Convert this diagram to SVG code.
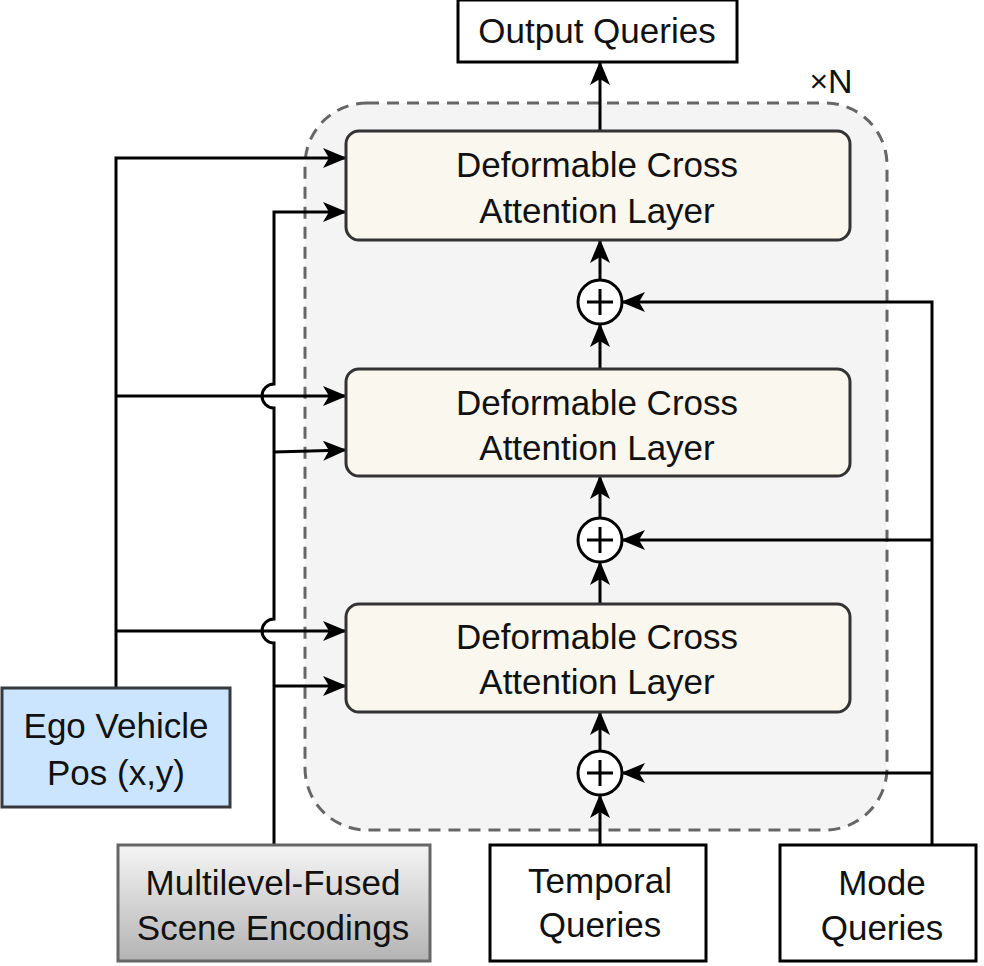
<svg xmlns="http://www.w3.org/2000/svg" width="984" height="966" viewBox="0 0 984 966">
<style>
text{font-family:"Liberation Sans",Arial,sans-serif;font-size:35px;fill:#111;text-anchor:middle;dominant-baseline:central}
.box{fill:#fff;stroke:#000;stroke-width:3}
.layer{fill:#f9f7ee;stroke:#333;stroke-width:3}
.ln{fill:none;stroke:#000;stroke-width:3}
.sum{fill:#fff;stroke:#000;stroke-width:3}
</style>
<defs>
<marker id="ah" viewBox="0 0 24 20" refX="23" refY="10" markerWidth="24" markerHeight="20" markerUnits="userSpaceOnUse" orient="auto">
<path d="M0,0 L24,10 L0,20 L6,10 Z" fill="#000"/>
</marker>
<linearGradient id="g" x1="0" y1="0" x2="0" y2="1">
<stop offset="0" stop-color="#f5f5f5"/><stop offset="1" stop-color="#b3b3b3"/>
</linearGradient>
</defs>
<rect width="984" height="966" fill="#fff"/>
<g id="container">
<rect x="305" y="103" width="582" height="727" rx="62" fill="#f4f4f4" stroke="#666" stroke-width="3" stroke-dasharray="12,8"/>
<text x="831" y="81" style="font-size:34px"><tspan style="font-size:32px">×</tspan>N</text>
</g>
<g id="connectors">
<path class="ln" d="M600,845 L600,795" marker-end="url(#ah)"/>
<path class="ln" d="M600,751 L600,712" marker-end="url(#ah)"/>
<path class="ln" d="M600,604 L600,562" marker-end="url(#ah)"/>
<path class="ln" d="M600,518 L600,476" marker-end="url(#ah)"/>
<path class="ln" d="M600,369 L600,324" marker-end="url(#ah)"/>
<path class="ln" d="M600,280 L600,240" marker-end="url(#ah)"/>
<path class="ln" d="M600,131 L600,62" marker-end="url(#ah)"/>
<path class="ln" d="M932,845 L932,302 L622,302" marker-end="url(#ah)"/>
<path class="ln" d="M932,540 L622,540" marker-end="url(#ah)"/>
<path class="ln" d="M932,773 L622,773" marker-end="url(#ah)"/>
<path class="ln" d="M116,688 L116,158 L346,158" marker-end="url(#ah)"/>
<path class="ln" d="M116,396 L346,396" marker-end="url(#ah)"/>
<path class="ln" d="M116,631 L346,631" marker-end="url(#ah)"/>
<path class="ln" d="M274,845 L274,643 A12,12 0 0 1 274,619 L274,408 A12,12 0 0 1 274,384 L274,212 L346,212" marker-end="url(#ah)"/>
<path class="ln" d="M274,452 L346,450" marker-end="url(#ah)"/>
<path class="ln" d="M274,686 L346,686" marker-end="url(#ah)"/>
</g>
<g id="output">
<rect class="box" x="458" y="0" width="279" height="62"/>
<text x="597" y="30">Output Queries</text>
</g>
<g id="layer1">
<rect class="layer" x="346" y="131" width="504" height="109" rx="13"/>
<text x="597" y="164">Deformable Cross</text>
<text x="597" y="210">Attention Layer</text>
</g>
<g id="layer2">
<rect class="layer" x="346" y="369" width="504" height="107" rx="13"/>
<text x="597" y="402">Deformable Cross</text>
<text x="597" y="447">Attention Layer</text>
</g>
<g id="layer3">
<rect class="layer" x="346" y="604" width="504" height="108" rx="13"/>
<text x="597" y="636">Deformable Cross</text>
<text x="597" y="681">Attention Layer</text>
</g>
<g id="sum1">
<circle class="sum" cx="600" cy="302" r="22"/>
<path class="ln" d="M587,302 H613 M600,289 V315"/>
</g>
<g id="sum2">
<circle class="sum" cx="600" cy="540" r="22"/>
<path class="ln" d="M587,540 H613 M600,527 V553"/>
</g>
<g id="sum3">
<circle class="sum" cx="600" cy="773" r="22"/>
<path class="ln" d="M587,773 H613 M600,760 V786"/>
</g>
<g id="ego">
<rect x="2" y="688" width="228" height="119" fill="#cce5ff" stroke="#36393d" stroke-width="3"/>
<text x="116" y="725">Ego Vehicle</text>
<text x="116" y="772">Pos (x,y)</text>
</g>
<g id="scene">
<rect x="118" y="845" width="312" height="116" fill="url(#g)" stroke="#666" stroke-width="3"/>
<text x="273" y="882">Multilevel-Fused</text>
<text x="273" y="927">Scene Encodings</text>
</g>
<g id="temporal">
<rect class="box" x="490" y="845" width="216" height="116"/>
<text x="600" y="880">Temporal</text>
<text x="600" y="924">Queries</text>
</g>
<g id="mode">
<rect class="box" x="780" y="845" width="196" height="116"/>
<text x="882" y="882">Mode</text>
<text x="882" y="927">Queries</text>
</g>
</svg>
